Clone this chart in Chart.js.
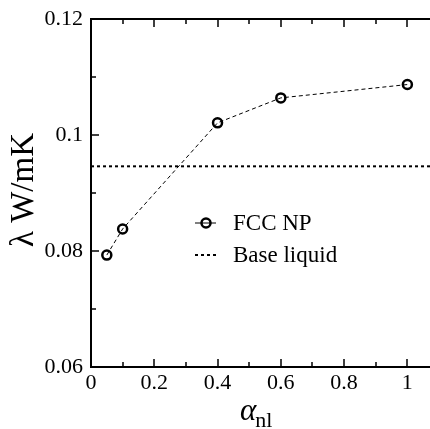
<!DOCTYPE html>
<html>
<head>
<meta charset="utf-8">
<script src="https://cdn.jsdelivr.net/npm/chart.js@4.4.0/dist/chart.umd.min.js"></script>
<style>
  html, body { margin: 0; padding: 0; background: #fff; overflow: hidden; }
  #wrap { width: 446px; height: 429px; }
</style>
</head>
<body>
<div id="wrap"><canvas id="c" width="446" height="429"></canvas></div>
<script>
// ---- data ----
const alphaNl = [0.05, 0.1, 0.4, 0.6, 1.0];
const lambdaFCC = [0.0793, 0.0838, 0.1021, 0.1064, 0.1087];
const baseLiquidValue = 0.0946;
const baseLiquidX = [0, 1.1];
const seriesLabels = ['FCC NP', 'Base liquid'];
const xTickValues = [0, 0.2, 0.4, 0.6, 0.8, 1.0];
const xTickLabels = ['0', '0.2', '0.4', '0.6', '0.8', '1'];
const xMinorTicks = [0.1, 0.3, 0.5, 0.7, 0.9];
const yTickValues = [0.06, 0.08, 0.10, 0.12];
const yTickLabels = ['0.06', '0.08', '0.1', '0.12'];
const yMinorTicks = [0.07, 0.09, 0.11];
const yTitleText = 'λ W/mK';
const xTitleMain = 'α';
const xTitleSub = 'nl';

const SERIF = "'Liberation Serif', 'DejaVu Serif', serif";

const decorPlugin = {
  id: 'decor',
  afterDraw(chart) {
    const ctx = chart.ctx;
    const ca = chart.chartArea;
    const xs = chart.scales.x, ys = chart.scales.y;
    ctx.save();
    ctx.strokeStyle = '#000';
    ctx.lineWidth = 2;
    ctx.beginPath();
    ctx.moveTo(ca.left, ca.top); ctx.lineTo(ca.left, ca.bottom);
    ctx.moveTo(ca.left - 1, ca.bottom); ctx.lineTo(ca.right, ca.bottom);
    ctx.moveTo(ca.left - 1, ca.top); ctx.lineTo(ca.right, ca.top);
    ctx.stroke();
    ctx.lineWidth = 1.5;
    ctx.beginPath();
    const major = 8, minor = 5;
    xTickValues.forEach(v => {
      const px = Math.round(xs.getPixelForValue(v));
      ctx.moveTo(px, ca.bottom); ctx.lineTo(px, ca.bottom - major);
      ctx.moveTo(px, ca.top); ctx.lineTo(px, ca.top + major);
    });
    xMinorTicks.forEach(v => {
      const px = Math.round(xs.getPixelForValue(v));
      ctx.moveTo(px, ca.bottom); ctx.lineTo(px, ca.bottom - minor);
      ctx.moveTo(px, ca.top); ctx.lineTo(px, ca.top + minor);
    });
    yTickValues.forEach(v => {
      const py = Math.round(ys.getPixelForValue(v));
      ctx.moveTo(ca.left, py); ctx.lineTo(ca.left + major, py);
    });
    yMinorTicks.forEach(v => {
      const py = Math.round(ys.getPixelForValue(v));
      ctx.moveTo(ca.left, py); ctx.lineTo(ca.left + minor, py);
    });
    ctx.stroke();

    // y title
    ctx.fillStyle = '#000';
    ctx.save();
    ctx.translate(33, 190);
    ctx.rotate(-Math.PI / 2);
    ctx.font = '33px ' + SERIF;
    ctx.textAlign = 'center';
    ctx.textBaseline = 'alphabetic';
    ctx.fillText(yTitleText, 0, 0);
    ctx.restore();

    // x title
    ctx.textAlign = 'left';
    ctx.textBaseline = 'alphabetic';
    const tx = 240;
    ctx.font = 'italic 31px ' + SERIF;
    const aW = ctx.measureText(xTitleMain).width;
    ctx.fillText(xTitleMain, tx, 420);
    ctx.font = '22px ' + SERIF;
    ctx.fillText(xTitleSub, tx + aW - 1, 427);

    // legend
    ctx.font = '23px ' + SERIF;
    ctx.textBaseline = 'middle';
    const ly1 = 223, ly2 = 255;
    ctx.strokeStyle = '#000';
    ctx.lineWidth = 1;
    ctx.setLineDash([]);
    ctx.beginPath(); ctx.moveTo(195, ly1); ctx.lineTo(216, ly1); ctx.stroke();
    ctx.lineWidth = 2.5;
    ctx.beginPath(); ctx.arc(206, ly1, 4.5, 0, Math.PI * 2); ctx.stroke();
    ctx.fillText(seriesLabels[0], 233, ly1 + 1);
    ctx.lineWidth = 2;
    ctx.setLineDash([3, 3]);
    ctx.beginPath(); ctx.moveTo(195, ly2); ctx.lineTo(216, ly2); ctx.stroke();
    ctx.setLineDash([]);
    ctx.fillText(seriesLabels[1], 233, ly2 + 1);
    ctx.restore();
  }
};

new Chart(document.getElementById('c'), {
  type: 'line',
  data: {
    datasets: [
      {
        label: seriesLabels[0],
        data: alphaNl.map((x, i) => ({ x: x, y: lambdaFCC[i] })),
        borderColor: '#000',
        borderWidth: 1,
        borderDash: [4, 3],
        pointRadius: 4.5,
        pointBorderWidth: 2.5,
        pointBorderColor: '#000',
        pointBackgroundColor: 'rgba(0,0,0,0)',
        pointStyle: 'circle',
        fill: false,
        tension: 0
      },
      {
        label: seriesLabels[1],
        data: baseLiquidX.map(x => ({ x: x, y: baseLiquidValue })),
        borderColor: '#000',
        borderWidth: 2,
        borderDash: [3, 3],
        pointRadius: 0,
        fill: false
      }
    ]
  },
  options: {
    responsive: false,
    animation: false,
    events: [],
    layout: { padding: { top: 16, left: 0, right: 0, bottom: 0 } },
    plugins: { legend: { display: false }, tooltip: { enabled: false }, title: { display: false } },
    scales: {
      x: {
        type: 'linear',
        min: 0, max: 1.1,
        grid: { display: false, drawTicks: false },
        border: { display: false },
        afterBuildTicks: s => { s.ticks = xTickValues.map(v => ({ value: v })); },
        afterFit: s => { s.height = 62; },
        ticks: {
          autoSkip: false,
          maxRotation: 0,
          padding: 3,
          color: '#000',
          font: { family: SERIF, size: 22 },
          callback: (v) => { const i = xTickValues.findIndex(t => Math.abs(t - v) < 1e-9); return i >= 0 ? xTickLabels[i] : ''; }
        }
      },
      y: {
        type: 'linear',
        min: 0.06, max: 0.12,
        grid: { display: false, drawTicks: false },
        border: { display: false },
        afterBuildTicks: s => { s.ticks = yTickValues.map(v => ({ value: v })); },
        afterFit: s => { s.width = 91; },
        ticks: {
          autoSkip: false,
          padding: 8,
          color: '#000',
          font: { family: SERIF, size: 22, lineHeight: 1.0 },
          callback: (v) => { const i = yTickValues.findIndex(t => Math.abs(t - v) < 1e-9); return i >= 0 ? yTickLabels[i] : ''; }
        }
      }
    }
  },
  plugins: [decorPlugin]
});
</script>
</body>
</html>
